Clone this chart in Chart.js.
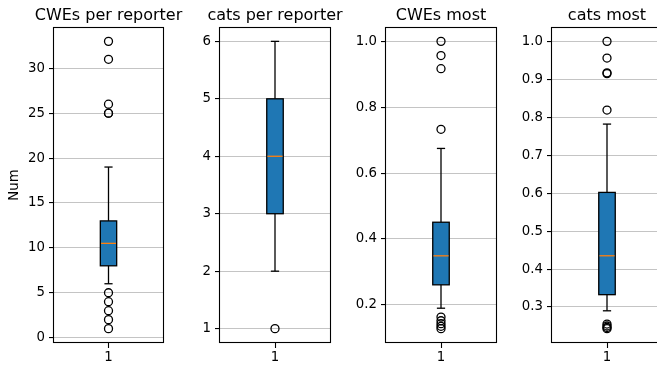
<!DOCTYPE html>
<html>
<head>
<meta charset="utf-8">
<script src="https://cdn.jsdelivr.net/npm/chart.js@4.4.1/dist/chart.umd.min.js"></script>
<style>
  html, body { margin: 0; padding: 0; background: #fff; }
  body { width: 657px; height: 366px; position: relative; overflow: hidden; }
  canvas { position: absolute; top: 0; }
</style>
</head>
<body>
<canvas id="p0"></canvas>
<canvas id="p1"></canvas>
<canvas id="p2"></canvas>
<canvas id="p3"></canvas>
<script>
// Four box plots, one per panel
const panelTitles = ['CWEs per reporter', 'cats per reporter', 'CWEs most', 'cats most'];
const categories = ['1'];

// box statistics per panel
const whiskerLow  = [6,    2, 0.190, 0.290];
const q1          = [8,    3, 0.261, 0.3325];
const median      = [10.5, 4, 0.349, 0.435];
const q3          = [13,   5, 0.451, 0.602];
const whiskerHigh = [19,   6, 0.675, 0.782];

// outliers per panel
const fliersCwesPerReporter = [33, 31, 26, 25, 25, 5, 4, 3, 2, 1];
const fliersCatsPerReporter = [1];
const fliersCwesMost = [1.0, 0.957, 0.917, 0.733, 0.163, 0.152, 0.143, 0.135, 0.128];
const fliersCatsMost = [1.0, 0.956, 0.917, 0.915, 0.819, 0.255, 0.250, 0.246, 0.243];
const fliers = [fliersCwesPerReporter, fliersCatsPerReporter, fliersCwesMost, fliersCatsMost];

// y tick labels per panel
const ticksCwesPerReporter = [0, 5, 10, 15, 20, 25, 30];
const ticksCatsPerReporter = [1, 2, 3, 4, 5, 6];
const ticksCwesMost = [0.2, 0.4, 0.6, 0.8, 1.0];
const ticksCatsMost = [0.3, 0.4, 0.5, 0.6, 0.7, 0.8, 0.9, 1.0];
const yTicks = [ticksCwesPerReporter, ticksCatsPerReporter, ticksCwesMost, ticksCatsMost];
const tickDecimals = [0, 0, 1, 1];

const yLabel = 'Num';

// layout of the panels
const canvasLeft = [0, 166, 332, 498];
const plotWidth = [109, 110, 110, 110];
const AXIS_W = 54, PAD_R = 34, H = 366, TOP = 27, XAXIS_H = 23;
const FONT = 'DejaVu Sans';

const boxExtras = {
  id: 'boxExtras',
  afterDatasetsDraw(chart, args, opts) {
    const i = opts.panel;
    const ctx = chart.ctx;
    const y = chart.scales.y;
    const bar = chart.getDatasetMeta(0).data[0];
    const cx = bar.x, half = bar.width / 2, capHalf = half / 2;
    ctx.save();
    ctx.lineCap = 'butt';
    // whiskers and caps
    ctx.strokeStyle = '#000';
    ctx.lineWidth = 1.3;
    const seg = (x1, y1, x2, y2) => { ctx.beginPath(); ctx.moveTo(x1, y1); ctx.lineTo(x2, y2); ctx.stroke(); };
    const yq1 = y.getPixelForValue(q1[i]), yq3 = y.getPixelForValue(q3[i]);
    const ylo = y.getPixelForValue(whiskerLow[i]), yhi = y.getPixelForValue(whiskerHigh[i]);
    seg(cx, yq1, cx, ylo);
    seg(cx, yq3, cx, yhi);
    seg(cx - capHalf, ylo, cx + capHalf, ylo);
    seg(cx - capHalf, yhi, cx + capHalf, yhi);
    // box outline
    ctx.lineWidth = 1.3;
    ctx.strokeRect(cx - half, yq3, half * 2, yq1 - yq3);
    // median
    ctx.strokeStyle = '#ff7f0e';
    const ym = y.getPixelForValue(median[i]);
    seg(cx - half + 0.7, ym, cx + half - 0.7, ym);
    // frame
    const a = chart.chartArea;
    ctx.strokeStyle = '#000';
    ctx.lineWidth = 1.1;
    ctx.strokeRect(Math.round(a.left) - 0.5, Math.round(a.top) + 0.5,
                   Math.round(a.right - a.left) + 1, Math.round(a.bottom - a.top) - 1);
    // panel title
    ctx.fillStyle = '#000';
    ctx.font = '16px "' + FONT + '"';
    ctx.textAlign = 'center';
    ctx.textBaseline = 'alphabetic';
    ctx.fillText(panelTitles[i], (a.left + a.right) / 2, 20);
    ctx.restore();
  }
};

function yRange(i) {
  const vals = fliers[i].concat([whiskerLow[i], whiskerHigh[i], q1[i], q3[i]]);
  const lo = Math.min(...vals), hi = Math.max(...vals);
  const m = (hi - lo) * 0.05;
  return [lo - m, hi + m];
}

for (let i = 0; i < 4; i++) {
  const cv = document.getElementById('p' + i);
  const w = AXIS_W + plotWidth[i] + PAD_R;
  cv.width = w; cv.height = H;
  cv.style.left = canvasLeft[i] + 'px';
  cv.style.width = w + 'px'; cv.style.height = H + 'px';
  const [ymin, ymax] = yRange(i);
  new Chart(cv, {
    type: 'bar',
    data: {
      labels: categories,
      datasets: [
        {
          data: [[q1[i], q3[i]]],
          backgroundColor: '#1f77b4',
          borderWidth: 0,
          borderSkipped: false,
          barPercentage: 0.15,
          categoryPercentage: 1.0,
          order: 2
        },
        {
          type: 'line',
          data: fliers[i].map(v => ({ x: categories[0], y: v })),
          showLine: false,
          pointStyle: 'circle',
          pointRadius: 4,
          pointBorderWidth: 1.3,
          pointBackgroundColor: 'rgba(0,0,0,0)',
          pointBorderColor: '#000',
          order: 1
        }
      ]
    },
    options: {
      responsive: false,
      animation: false,
      events: [],
      layout: { padding: { top: TOP, right: PAD_R, left: 0, bottom: 0 } },
      plugins: {
        legend: { display: false },
        tooltip: { enabled: false },
        title: { display: false },
        boxExtras: { panel: i }
      },
      scales: {
        x: {
          type: 'category',
          offset: true,
          grid: { display: true, drawOnChartArea: false, drawTicks: true, offset: false,
                  tickLength: 5, tickColor: '#000', tickWidth: 1.1 },
          border: { display: false },
          ticks: { color: '#000', font: { family: FONT, size: 13.3 }, padding: 2 },
          afterFit(s) { s.height = XAXIS_H; }
        },
        y: {
          type: 'linear',
          min: ymin,
          max: ymax,
          grid: { display: true, color: '#c4c4c4', lineWidth: 1.1, drawTicks: true,
                  tickLength: 5, tickColor: '#000', tickWidth: 1.1 },
          border: { display: false },
          ticks: {
            color: '#000',
            font: { family: FONT, size: 13.3 },
            padding: 4,
            callback: (v) => Number(v).toFixed(tickDecimals[i])
          },
          afterBuildTicks(s) { s.ticks = yTicks[i].map(v => ({ value: v })); },
          afterFit(s) { s.width = AXIS_W; },
          title: {
            display: i === 0,
            text: yLabel,
            color: '#000',
            font: { family: FONT, size: 13.3 },
            padding: { top: 7, bottom: 0 }
          }
        }
      }
    },
    plugins: [boxExtras]
  });
}
</script>
</body>
</html>
